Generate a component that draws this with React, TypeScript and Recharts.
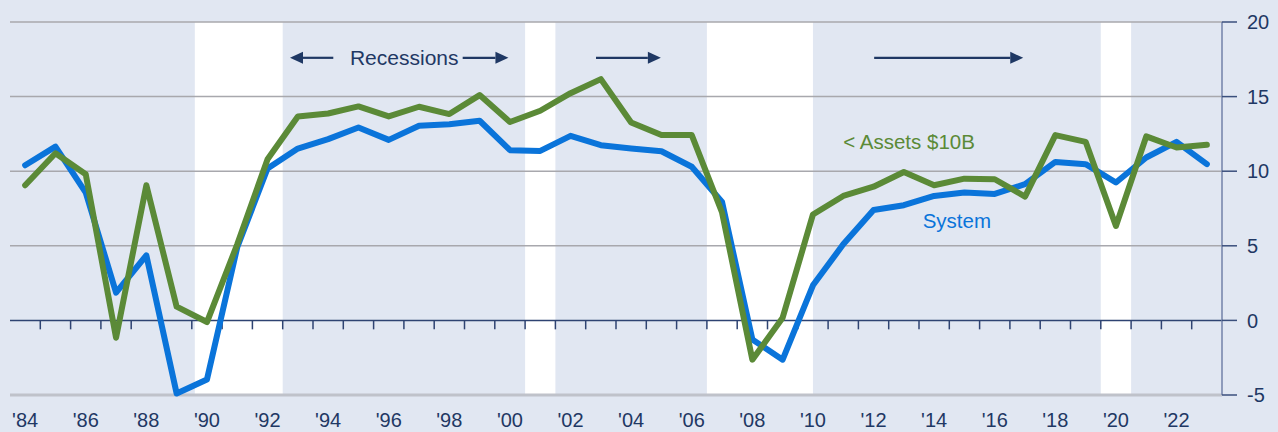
import { LineChart, Line, XAxis, YAxis, ReferenceArea, ReferenceLine } from 'recharts'

const years = [
  1984, 1985, 1986, 1987, 1988, 1989, 1990, 1991, 1992, 1993,
  1994, 1995, 1996, 1997, 1998, 1999, 2000, 2001, 2002, 2003,
  2004, 2005, 2006, 2007, 2008, 2009, 2010, 2011, 2012, 2013,
  2014, 2015, 2016, 2017, 2018, 2019, 2020, 2021, 2022, 2023,
]

const system = [
  10.4, 11.65, 8.57, 1.86, 4.36, -4.9, -3.96, 4.9, 10.18, 11.52,
  12.15, 12.93, 12.1, 13.04, 13.15, 13.38, 11.41, 11.36, 12.37, 11.74,
  11.52, 11.34, 10.3, 7.94, -1.28, -2.63, 2.35, 5.1, 7.4, 7.72,
  8.34, 8.57, 8.48, 9.13, 10.62, 10.47, 9.24, 10.92, 11.97, 10.47,
]

const smallBanks = [
  9.06, 11.2, 9.8, -1.16, 9.06, 0.92, -0.11, 5.1, 10.8, 13.67,
  13.87, 14.34, 13.67, 14.32, 13.83, 15.1, 13.3, 14.05, 15.23, 16.17,
  13.27, 12.42, 12.42, 7.23, -2.63, 0.18, 7.1, 8.34, 8.96, 9.95,
  9.06, 9.5, 9.46, 8.3, 12.42, 11.97, 6.33, 12.33, 11.59, 11.77,
]

const xLabelYears = [
  1984, 1986, 1988, 1990, 1992, 1994, 1996, 1998, 2000, 2002,
  2004, 2006, 2008, 2010, 2012, 2014, 2016, 2018, 2020, 2022,
]
const yTicks = [-5, 0, 5, 10, 15, 20]

// recession shading, in fractional years
const recessions: [number, number][] = [
  [1989.6, 1992.5],
  [2000.5, 2001.5],
  [2006.5, 2010.0],
  [2019.5, 2020.5],
]

// arrows above the lines: [tail, tip]
const arrows: [number, number][] = [
  [1994.17, 1992.74],
  [1998.44, 1999.95],
  [2002.84, 2004.98],
  [2012.02, 2016.94],
]
const arrowLevel = 17.6

const BG = '#e1e7f2'
const NAVY = '#1f3864'
const BLUE = '#0a74da'
const GREEN = '#5b8a37'
const GRID = '#a8a8ad'
const FONT = "Arial, 'Liberation Sans', sans-serif"

const data = years.map((year, i) => ({
  year,
  system: system[i],
  small: smallBanks[i],
}))

const tickBounds = years.slice(0, -1).map((y) => y + 0.5)

function ArrowShape(props: any) {
  const { x1, y1, x2, y2 } = props
  const dir = x2 > x1 ? 1 : -1
  const head = 13
  return (
    <g>
      <line x1={x1} y1={y1} x2={x2 - dir * head} y2={y2} stroke={NAVY} strokeWidth={2.2} />
      <path
        d={`M${x2},${y2} L${x2 - dir * head},${y2 - 6} L${x2 - dir * head},${y2 + 6} Z`}
        fill={NAVY}
      />
    </g>
  )
}

function textShape(label: string, color: string, size: number) {
  return (props: any) => (
    <text
      x={props.x1}
      y={props.y1}
      fill={color}
      fontSize={size}
      fontFamily={FONT}
      dominantBaseline="central"
    >
      {label}
    </text>
  )
}

function TickShape(props: any) {
  const { x1, y1, x2, y2 } = props
  return <line x1={x1} y1={y1} x2={x2} y2={y2} stroke="#2e4372" strokeWidth={1.5} />
}

export default function App() {
  return (
    <div
      style={{
        position: 'absolute',
        left: 0,
        top: 0,
        width: 1278,
        height: 432,
        background: BG,
        fontFamily: FONT,
      }}
    >
      <LineChart
        width={1278}
        height={432}
        data={data}
        margin={{ top: 22, right: 0, bottom: 0, left: 10 }}
      >
        <XAxis
          dataKey="year"
          type="number"
          domain={[1983.5, 2023.5]}
          ticks={xLabelYears}
          tickFormatter={(v: number) => "'" + String(v).slice(2)}
          axisLine={false}
          tickLine={false}
          tickSize={8}
          tickMargin={10}
          height={37}
          interval={0}
          allowDataOverflow
          tick={{ fill: NAVY, fontSize: 20, fontFamily: FONT }}
        />
        <YAxis
          orientation="right"
          domain={[-5, 20]}
          ticks={yTicks}
          width={56}
          tickSize={15}
          tickMargin={10}
          interval={0}
          axisLine={{ stroke: '#7282a8', strokeWidth: 1.5 }}
          tickLine={{ stroke: '#3a4f7c', strokeWidth: 1.5 }}
          tick={{ fill: NAVY, fontSize: 20, fontFamily: FONT, textAnchor: 'start' }}
        />

        {recessions.map(([a, b], i) => (
          <ReferenceArea key={'r' + i} x1={a} x2={b} y1={-5} y2={20} fill="#ffffff" fillOpacity={1} stroke="none" />
        ))}

        {[5, 10, 15, 20].map((v) => (
          <ReferenceLine key={'g' + v} y={v} stroke={GRID} strokeWidth={1.5} />
        ))}
        <ReferenceLine y={-5} stroke="#bfc2ca" strokeWidth={3} />
        <ReferenceLine y={0} stroke="#2e4372" strokeWidth={1.5} />
        {tickBounds.map((b) => (
          <ReferenceLine
            key={'t' + b}
            segment={[{ x: b, y: 0 }, { x: b, y: -0.6 }]}
            shape={TickShape}
          />
        ))}

        {arrows.map(([a, b], i) => (
          <ReferenceLine
            key={'a' + i}
            segment={[{ x: a, y: arrowLevel }, { x: b, y: arrowLevel }]}
            shape={ArrowShape}
          />
        ))}
        <ReferenceLine
          segment={[{ x: 1994.72, y: 17.65 }, { x: 1994.72, y: 17.65 }]}
          shape={textShape('Recessions', NAVY, 21)}
        />
        <ReferenceLine
          segment={[{ x: 2011.0, y: 12.02 }, { x: 2011.0, y: 12.02 }]}
          shape={textShape('< Assets $10B', GREEN, 20.5)}
        />
        <ReferenceLine
          segment={[{ x: 2013.62, y: 6.72 }, { x: 2013.62, y: 6.72 }]}
          shape={textShape('System', BLUE, 20.5)}
        />

        <Line
          type="linear"
          dataKey="system"
          stroke={BLUE}
          strokeWidth={6}
          dot={false}
          activeDot={false}
          strokeLinejoin="round"
          strokeLinecap="round"
          isAnimationActive={false}
        />
        <Line
          type="linear"
          dataKey="small"
          stroke={GREEN}
          strokeWidth={6}
          dot={false}
          activeDot={false}
          strokeLinejoin="round"
          strokeLinecap="round"
          isAnimationActive={false}
        />
      </LineChart>
    </div>
  )
}
